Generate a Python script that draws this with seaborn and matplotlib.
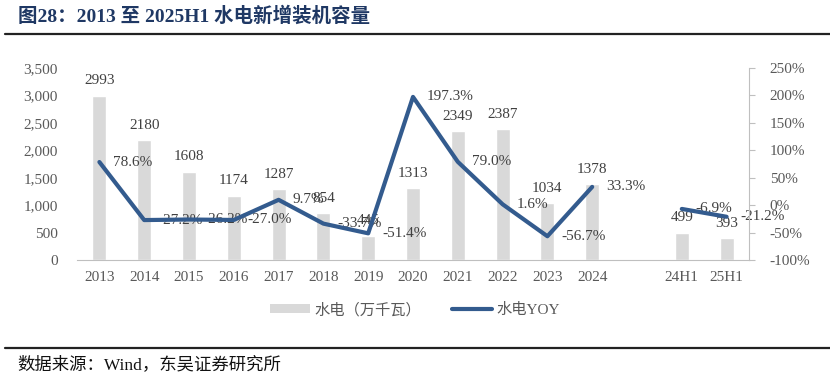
import numpy as np
import pandas as pd
import matplotlib
matplotlib.use("Agg")
import matplotlib.pyplot as plt
import seaborn as sns
from matplotlib.patches import Patch
from matplotlib.lines import Line2D

categories = ["2013", "2014", "2015", "2016", "2017", "2018", "2019", "2020",
              "2021", "2022", "2023", "2024", " ", "24H1", "25H1"]
capacity = [2993, 2180, 1608, 1174, 1287, 854, 445, 1313,
            2349, 2387, 1034, 1378, np.nan, 499, 393]
yoy = [78.6, -27.2, -26.2, -27.0, 9.7, -33.7, -51.4, 197.3,
       79.0, 1.6, -56.7, 33.3, np.nan, -6.9, -21.2]
segment = [0] * 12 + [-1] + [1, 1]
left_ticks = [0, 500, 1000, 1500, 2000, 2500, 3000, 3500]
right_ticks = [-100, -50, 0, 50, 100, 150, 200, 250]

sns.set_style("white")
plt.rcParams["font.family"] = ["Liberation Serif", "Noto Sans CJK SC"]
plt.rcParams["axes.unicode_minus"] = False

BAR = "#D9D9D9"
LINE = "#335B8E"
TXT = "#404040"
TICK = "#595959"

df = pd.DataFrame({"cat": categories, "cap": capacity, "yoy": yoy,
                   "seg": segment, "pos": np.arange(len(categories))})

fig = plt.figure(figsize=(8.3, 3.82), dpi=100)
ax = fig.add_axes([77 / 830, 1 - 260 / 382, (749 - 77) / 830, (260 - 68) / 382])

sns.barplot(data=df, x="cat", y="cap", order=categories, color=BAR,
            width=0.31, ax=ax, saturation=1)
ax.set_xlim(-0.5, len(categories) - 0.5)
ax.set_ylim(0, 3500)
ax.set_yticks(left_ticks)
ax.set_yticklabels([f"{v:,}" for v in left_ticks])
ax.set_xlabel("")
ax.set_ylabel("")
ax.set_xticks(np.arange(len(categories)))
ax.set_xticklabels(categories)
ax.set_xticks(np.arange(len(categories) + 1) - 0.5, minor=True)
ax.tick_params(axis="x", which="major", length=0, pad=8, labelsize=11, labelcolor=TICK)
ax.tick_params(axis="x", which="minor", length=4, color="#BFBFBF", width=0.8, direction="out")
ax.tick_params(axis="y", length=0, pad=14, labelsize=11, labelcolor=TICK)
for s in ["left", "top", "right"]:
    ax.spines[s].set_visible(False)
ax.spines["bottom"].set_color("#BFBFBF")
ax.spines["bottom"].set_linewidth(0.8)

ax2 = ax.twinx()
ax2.set_ylim(-100, 250)
ax2.set_yticks(right_ticks)
ax2.set_yticklabels([f"{v}%" for v in right_ticks])
ax2.tick_params(axis="y", length=4, color="#BFBFBF", width=0.8, pad=11,
                labelsize=11, labelcolor=TICK, direction="out")
for s in ["left", "top", "bottom"]:
    ax2.spines[s].set_visible(False)
ax2.spines["right"].set_color("#BFBFBF")
ax2.spines["right"].set_linewidth(0.8)

dline = df[df["seg"] >= 0]
sns.lineplot(data=dline, x="pos", y="yoy", units="seg", estimator=None,
             color=LINE, linewidth=3, ax=ax2, legend=False)
ax2.set_xlim(-0.5, len(categories) - 0.5)
ax2.set_xlabel("")
ax2.set_ylabel("")

# Labels (drawn on primary axes so the line sits above them)
for i, (c, v) in enumerate(zip(capacity, yoy)):
    if not np.isnan(c):
        ax.annotate(f"{int(c)}", (i, c), xytext=(0, 6), textcoords="offset points",
                    ha="center", va="bottom", fontsize=11, color=TXT)
    if not np.isnan(v):
        yl = (v + 100) / 350 * 3500
        ax.annotate(f"{v:.1f}%", (i, yl), xytext=(10, 0), textcoords="offset points",
                    ha="left", va="center", fontsize=11, color=TXT)

handles = [Patch(facecolor=BAR, edgecolor="none"),
           Line2D([0], [0], color=LINE, linewidth=3)]
fig.legend(handles, ["水电（万千瓦）", "水电YOY"], loc="center",
           bbox_to_anchor=(0.5, 1 - 310 / 382), ncol=2, frameon=False,
           fontsize=11, labelcolor=TICK, handlelength=2.6, handleheight=0.5,
           columnspacing=2.0, handletextpad=0.3)

fig.text(18 / 830, 1 - 16 / 382, "图28：2013 至 2025H1 水电新增装机容量",
         fontsize=14, fontweight="bold", color="#1F3864", va="center", ha="left")
fig.add_artist(Line2D([5 / 830, 1], [1 - 34 / 382] * 2, color="#222222", linewidth=1.6))
fig.add_artist(Line2D([5 / 830, 1], [1 - 348 / 382] * 2, color="#222222", linewidth=1.6))
fig.text(17 / 830, 1 - 365 / 382, "数据来源：Wind，东吴证券研究所",
         fontsize=12.5, color="#111111", va="center", ha="left")

fig.savefig("out.png", dpi=100)
